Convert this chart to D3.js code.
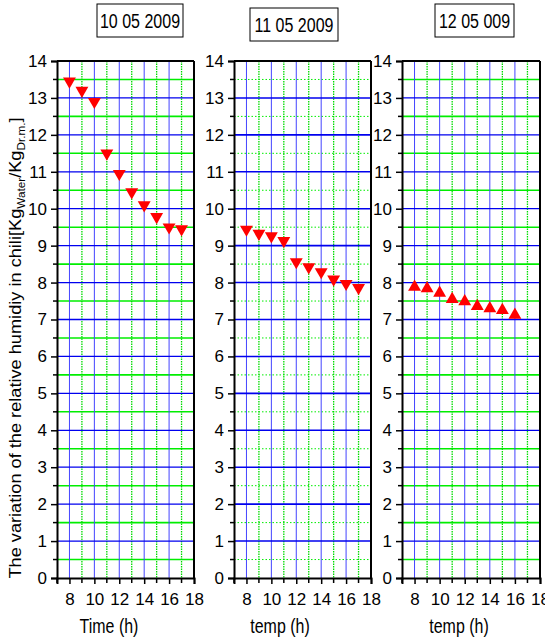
<!DOCTYPE html>
<html>
<head>
<meta charset="utf-8">
<script src="https://cdn.jsdelivr.net/npm/d3@7"></script>
<style>
  body { margin: 0; background: #fff; }
  svg text { font-family: "Liberation Sans", Arial, sans-serif; fill: #000; }
</style>
</head>
<body>
<script>
// data
var hours1 = [8, 9, 10, 11, 12, 13, 14, 15, 16, 17];
var day1 = [13.45, 13.2, 12.9, 11.5, 10.95, 10.45, 10.1, 9.78, 9.5, 9.45];
var hours2 = [8, 9, 10, 11, 12, 13, 14, 15, 16, 17];
var day2 = [9.44, 9.33, 9.26, 9.13, 8.56, 8.42, 8.29, 8.09, 7.97, 7.86];
var hours3 = [8, 9, 10, 11, 12, 13, 14, 15, 16];
var day3 = [7.88, 7.84, 7.72, 7.55, 7.49, 7.36, 7.3, 7.25, 7.12];

var titles = ["10 05 2009", "11 05 2009", "12 05 009"];
var xLabels = ["Time (h)", "temp (h)", "temp (h)"];
var yTicks = d3.range(0, 15, 1);
var xTicks = [8, 10, 12, 14, 16, 18];

var W = 545, H = 642;
var plotTop = 61, plotBottom = 578;

var panels = [
  {x0: 57, x1: 194, hours: hours1, vals: day1, sym: "down", halfDotted: false, box: [97, 4, 86, 33], labX: 109},
  {x0: 234, x1: 371, hours: hours2, vals: day2, sym: "down", halfDotted: true, box: [250, 8, 88, 33], labX: 280},
  {x0: 402, x1: 540, hours: hours3, vals: day3, sym: "up", halfDotted: false, box: [435, 4, 79, 33], labX: 459}
];

var svg = d3.select("body").append("svg").attr("width", W).attr("height", H);

var y = d3.scaleLinear().domain([0, 14]).range([plotBottom, plotTop]);

// squeeze a text horizontally around its anchor, the original font is narrow
function squeeze(t, cx, cy, k) {
  t.attr("x", 0).attr("y", 0)
    .attr("transform", "translate(" + cx + "," + cy + ") scale(" + k + ",1)");
}

panels.forEach(function(p, i) {
  var x = d3.scaleLinear().domain([7, 18]).range([p.x0, p.x1]);
  var g = svg.append("g");

  // horizontal half lines (green)
  g.selectAll(".hmin").data(d3.range(0.5, 14, 1)).enter().append("line")
    .attr("x1", p.x0).attr("x2", p.x1)
    .attr("y1", d => y(d)).attr("y2", d => y(d))
    .attr("stroke", "#00ee00")
    .attr("stroke-width", p.halfDotted ? 1 : 1.6)
    .attr("stroke-dasharray", p.halfDotted ? "1.5,2" : null);

  // vertical odd lines (green dotted)
  g.selectAll(".vmin").data([9, 11, 13, 15, 17]).enter().append("line")
    .attr("x1", d => x(d)).attr("x2", d => x(d))
    .attr("y1", plotTop).attr("y2", plotBottom)
    .attr("stroke", "#00dd00").attr("stroke-width", 1.3)
    .attr("stroke-dasharray", "1.5,1");

  // vertical even lines (blue)
  g.selectAll(".vmaj").data([8, 10, 12, 14, 16]).enter().append("line")
    .attr("x1", d => x(d)).attr("x2", d => x(d))
    .attr("y1", plotTop).attr("y2", plotBottom)
    .attr("stroke", "#4444ff").attr("stroke-width", 1);

  // horizontal integer lines (blue)
  g.selectAll(".hmaj").data(d3.range(1, 14)).enter().append("line")
    .attr("x1", p.x0).attr("x2", p.x1)
    .attr("y1", d => y(d)).attr("y2", d => y(d))
    .attr("stroke", "#0000ee").attr("stroke-width", i == 1 ? 1.6 : 1.3);

  // frame top and right
  g.append("line").attr("x1", p.x0).attr("x2", p.x1).attr("y1", plotTop).attr("y2", plotTop)
    .attr("stroke", "#000").attr("stroke-width", 2);
  g.append("line").attr("x1", p.x1).attr("x2", p.x1).attr("y1", plotTop).attr("y2", plotBottom)
    .attr("stroke", "#000").attr("stroke-width", 2);

  // y axis
  var yAx = g.append("g").attr("transform", "translate(" + p.x0 + ",0)")
    .call(d3.axisLeft(y).tickValues(yTicks).tickSize(6).tickPadding(4).tickFormat(d3.format("d")));
  yAx.select(".domain").attr("stroke-width", 2);
  yAx.selectAll(".tick line").attr("stroke-width", 1.5);
  yAx.selectAll("text").style("font-size", "17px");
  yAx.selectAll(".minor").data(d3.range(0.5, 14, 1)).enter().append("line")
    .attr("x1", -4).attr("x2", 0).attr("y1", d => y(d)).attr("y2", d => y(d))
    .attr("stroke", "#000").attr("stroke-width", 1.5);

  // x axis
  var xAx = g.append("g").attr("transform", "translate(0," + plotBottom + ")")
    .call(d3.axisBottom(x).tickValues(xTicks).tickSize(6).tickPadding(9).tickFormat(d3.format("d")));
  xAx.select(".domain").attr("stroke-width", 2);
  xAx.selectAll(".tick line").attr("stroke-width", 1.5);
  xAx.selectAll("text").style("font-size", "17px");
  xAx.selectAll(".minor").data([7, 9, 11, 13, 15, 17]).enter().append("line")
    .attr("x1", d => x(d)).attr("x2", d => x(d)).attr("y1", 0).attr("y2", 5)
    .attr("stroke", "#000").attr("stroke-width", 1.5);

  // markers
  var sym = d3.symbol().type(d3.symbolTriangle).size(72);
  g.selectAll(".pt").data(p.hours).enter().append("path")
    .attr("d", sym)
    .attr("transform", (d, k) => "translate(" + x(d) + "," + y(p.vals[k]) + ")" + (p.sym == "down" ? " rotate(180)" : ""))
    .attr("fill", "#ff0000");

  // title box
  g.append("rect").attr("x", p.box[0]).attr("y", p.box[1])
    .attr("width", p.box[2]).attr("height", p.box[3])
    .attr("fill", "#fff").attr("stroke", "#000").attr("stroke-width", 1);
  var tt = g.append("text").attr("text-anchor", "middle").style("font-size", "20px").text(titles[i]);
  squeeze(tt, p.box[0] + p.box[2] / 2, p.box[1] + p.box[3] / 2 + 7, 0.8);

  // x label
  var xl = g.append("text").attr("text-anchor", "middle").style("font-size", "21px").text(xLabels[i]);
  squeeze(xl, p.labX, 633, 0.76);
});

// y label
var yl = svg.append("text")
  .attr("transform", "translate(21,348) rotate(-90) scale(1.07,1)")
  .attr("text-anchor", "middle").style("font-size", "17px");
yl.append("tspan").text("The variation of the relative humidiy in chili[Kg");
yl.append("tspan").attr("dy", 4).style("font-size", "11px").text("Water");
yl.append("tspan").attr("dy", -4).text("/Kg");
yl.append("tspan").attr("dy", 4).style("font-size", "11px").text("Dr.m.");
yl.append("tspan").attr("dy", -4).text("]");
</script>
</body>
</html>
